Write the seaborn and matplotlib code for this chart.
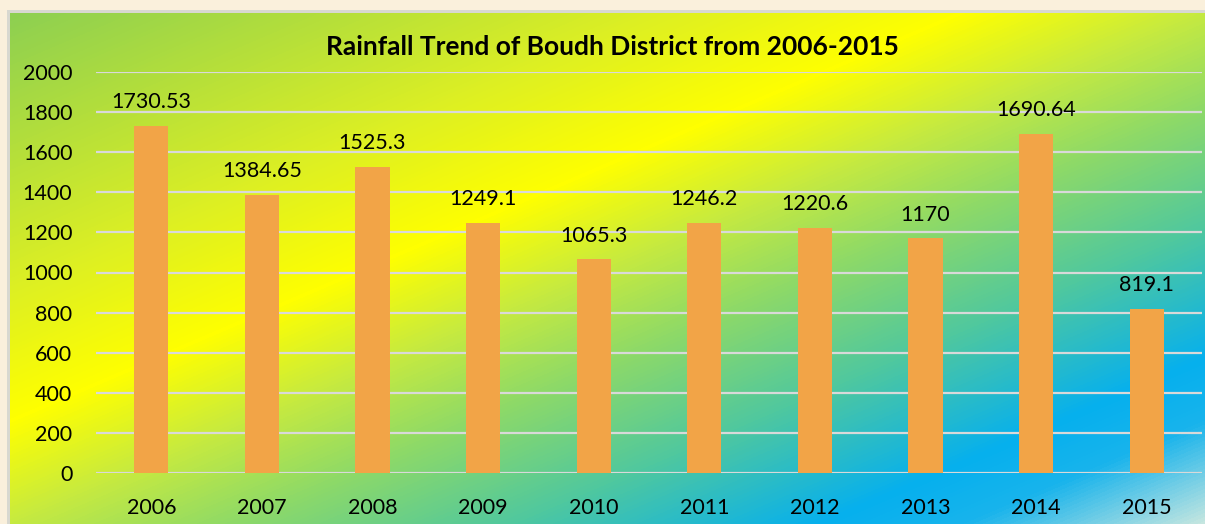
import numpy as np
import pandas as pd
import matplotlib
matplotlib.use("Agg")
import matplotlib.pyplot as plt
import seaborn as sns
from matplotlib.colors import LinearSegmentedColormap

years = ["2006", "2007", "2008", "2009", "2010", "2011", "2012", "2013", "2014", "2015"]
rainfall = [1730.53, 1384.65, 1525.3, 1249.1, 1065.3, 1246.2, 1220.6, 1170, 1690.64, 819.1]
label_text = ["1730.53", "1384.65", "1525.3", "1249.1", "1065.3", "1246.2", "1220.6", "1170", "1690.64", "819.1"]
title = "Rainfall Trend of Boudh District from 2006-2015"

sns.set_theme(style="white")
plt.rcParams['font.family'] = ['Lato', 'DejaVu Sans']

W, H = 1205, 524
fig = plt.figure(figsize=(W / 100, H / 100), dpi=100)
fig.patch.set_facecolor("#FAF0DC")

# background gradient
bg = fig.add_axes([0, 0, 1, 1], zorder=-5)
bg.set_axis_off()
x0, y0 = 7, 10
pw, ph = W - x0, H - y0
yy, xx = np.mgrid[0:H, 0:W]
u = (xx - x0) / pw
v = (yy - y0) / ph
s = np.clip((u + v) / 2, 0, 1)
cmap = LinearSegmentedColormap.from_list("g", [
    (0.0, "#8CCF52"),
    (0.13, "#B2DE3C"),
    (0.27, "#DCEF24"),
    (0.40, "#FFFF00"),
    (0.50, "#C6EA40"),
    (0.59, "#90DA66"),
    (0.71, "#50C89E"),
    (0.84, "#06B0EE"),
    (0.90, "#18B4EC"),
    (1.0, "#C6E6E0"),
])
img = cmap(s)[:, :, :3]
beige = np.array([0xFA, 0xF0, 0xDC]) / 255
img[:y0, :] = beige
img[:, :x0] = beige
img[y0:y0 + 3, x0:] = np.array([0xD8, 0xD8, 0xD0]) / 255
img[y0:, x0:x0 + 3] = np.array([0xD8, 0xD8, 0xD0]) / 255
bg.imshow(img, extent=(0, 1, 0, 1), aspect="auto", interpolation="bilinear")
bg.set_xlim(0, 1)
bg.set_ylim(0, 1)

ax = fig.add_axes([96 / W, 51 / H, (1202 - 96) / W, (452 - 51) / H])
ax.patch.set_alpha(0)
df = pd.DataFrame({"year": years, "rain": rainfall})
sns.barplot(data=df, x="year", y="rain", color="#F2A447", saturation=1, width=0.31,
            linewidth=0, edgecolor="none", ax=ax, zorder=3)
ax.set_ylim(0, 2000)
ax.set_xlim(-0.5, len(years) - 0.5)
ax.set_yticks(range(0, 2001, 200))
ax.yaxis.grid(True, color="#D9D9D9", linewidth=1.6, zorder=0)
ax.set_axisbelow(True)
for sp in ax.spines.values():
    sp.set_visible(False)
ax.set_xlabel("")
ax.set_ylabel("")
ax.tick_params(axis="both", length=0, labelsize=15.5, colors="black")
ax.tick_params(axis="y", pad=17)
ax.tick_params(axis="x", pad=18)
ax.bar_label(ax.containers[0], labels=label_text, padding=10, fontsize=15.5, color="black")

fig.text(0.5 * (322 + 903) / W, 1 - 47 / H, title, ha="center", va="center",
         fontsize=19, fontweight="bold", color="black")

fig.savefig("out.png", dpi=100)
